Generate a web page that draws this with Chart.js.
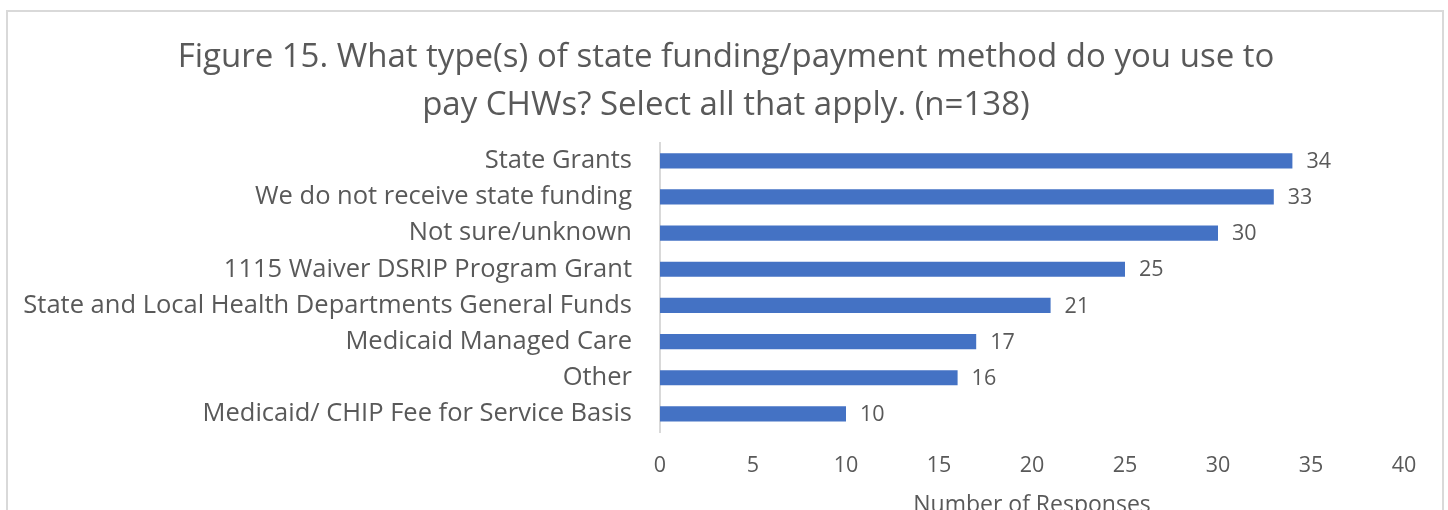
<!DOCTYPE html>
<html>
<head>
<meta charset="utf-8">
<script src="https://cdn.jsdelivr.net/npm/chart.js@4.4.1/dist/chart.umd.min.js"></script>
<style>
    html, body { margin: 0; padding: 0; background: #fff; overflow: hidden; }
    #wrap { position: relative; width: 1448px; height: 510px; overflow: hidden; }
    #frame {
        position: absolute; left: 6px; top: 10px; width: 1434px; height: 560px;
        border: 2px solid #d9d9d9;
    }
    #chartBox { position: absolute; left: 0; top: 0; width: 1448px; height: 530px; }
</style>
</head>
<body>
<div id="wrap">
    <div id="frame"></div>
    <div id="chartBox"><canvas id="fundingChart" width="1448" height="530"></canvas></div>
</div>
<script>
// ----- data -----
const categories = [
    "State Grants",
    "We do not receive state funding",
    "Not sure/unknown",
    "1115 Waiver DSRIP Program Grant",
    "State and Local Health Departments General Funds",
    "Medicaid Managed Care",
    "Other",
    "Medicaid/ CHIP Fee for Service Basis"
];
const responses = [34, 33, 30, 25, 21, 17, 16, 10];
const titleLines = [
    "Figure 15. What type(s) of state funding/payment method do you use to",
    "pay CHWs? Select all that apply. (n=138)"
];
const axisTitle = "Number of Responses";

const TEXT = "#595959";
const FONT = "'Open Sans', sans-serif";

// value labels at the end of each bar
const barLabels = {
    id: "barLabels",
    afterDatasetsDraw(chart) {
        const ctx = chart.ctx;
        const meta = chart.getDatasetMeta(0);
        ctx.save();
        ctx.font = "21.5px " + FONT;
        ctx.fillStyle = TEXT;
        ctx.textAlign = "left";
        ctx.textBaseline = "middle";
        meta.data.forEach(function (bar, i) {
            ctx.fillText(String(responses[i]), bar.x + 14, bar.y + 1);
        });
        ctx.restore();
    }
};

// the original title sits a little right of the canvas centre
const titleShift = {
    id: "titleShift",
    afterLayout(chart) {
        if (chart.titleBlock) chart.titleBlock.left += 48;
    }
};

new Chart(document.getElementById("fundingChart"), {
    type: "bar",
    data: {
        labels: categories,
        datasets: [{
            data: responses,
            backgroundColor: "#4472C4",
            categoryPercentage: 1,
            barPercentage: 0.42
        }]
    },
    options: {
        indexAxis: "y",
        responsive: false,
        animation: false,
        devicePixelRatio: 1,
        layout: { padding: { top: 0, right: 44, bottom: 0, left: 0 } },
        plugins: {
            legend: { display: false },
            tooltip: { enabled: false },
            title: {
                display: true,
                text: titleLines,
                color: TEXT,
                font: { family: FONT, size: 33, weight: "normal", lineHeight: 1.45 },
                padding: { top: 34, bottom: 13 }
            }
        },
        scales: {
            x: {
                min: 0, max: 40,
                ticks: {
                    stepSize: 5, color: TEXT, padding: 21,
                    font: { family: FONT, size: 21.5 }
                },
                grid: { display: false, drawTicks: false },
                border: { display: false },
                title: {
                    display: true, text: axisTitle, color: TEXT,
                    font: { family: FONT, size: 23 },
                    padding: { top: 0, bottom: 11 }
                },
                afterFit(scale) { scale.height = 98; }
            },
            y: {
                ticks: {
                    color: TEXT, padding: 28,
                    font: { family: FONT, size: 25.5 }
                },
                grid: { display: false, drawTicks: false },
                border: { display: true, color: "#d9d9d9", width: 2 },
                afterFit(scale) { scale.width = 660; }
            }
        }
    },
    plugins: [barLabels, titleShift]
});
</script>
</body>
</html>
